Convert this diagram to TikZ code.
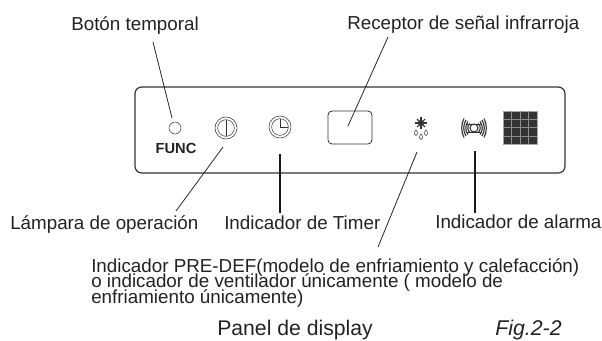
\documentclass[tikz,border=0pt]{standalone}
\usepackage{fontspec}
\setmainfont{Liberation Sans}
\usepackage{xcolor}
\usetikzlibrary{positioning}
\definecolor{panelgray}{HTML}{333333}
\definecolor{textgray}{HTML}{222222}
\lineskiplimit=-10pt
\normallineskiplimit=-10pt
\tikzset{
  lead/.style={draw=black!85, line width=0.6pt},
  leadthick/.style={draw=black!90, line width=1.1pt},
  lbl/.style={inner sep=0pt, anchor=base west, text=textgray, font=\fontsize{14.1pt}{16pt}\selectfont},
  ring/.style={draw=panelgray, circle, inner sep=0pt, line width=0.4pt},
}
\begin{document}
\begin{tikzpicture}[x=0.75pt,y=-0.75pt]
  \useasboundingbox (0,0) rectangle (602,340);
  \draw[draw=panelgray, line width=0.9pt, rounded corners=5pt] (135,87) rectangle (565,173);

  % labels
  \node[lbl] (boton) at (71,30) {Botón temporal};
  \node[lbl] (receptor) at (347,29) {Receptor de señal infrarroja};
  \node[lbl] (lampara) at (10,229) {Lámpara de operación};
  \node[lbl] (timer) at (224,229) {Indicador de Timer};
  \node[lbl] (alarma) at (435,228) {Indicador de alarma};
  \node[lbl, anchor=north west, font=\fontsize{14.1pt}{11.9pt}\selectfont, align=left] (predef) at (91,258)
    {Indicador PRE-DEF(modelo de enfriamiento y calefacción)\\ o indicador de ventilador únicamente ( modelo de\\ enfriamiento únicamente)};
  \node[lbl, font=\fontsize{15.9pt}{18pt}\selectfont] (panel) at (217,335) {Panel de display};
  \node[lbl, font=\fontsize{16pt}{18pt}\itshape] (fig) at (495,335) {Fig.2-2};
  \node[inner sep=0pt, text=textgray, font=\fontsize{11pt}{12pt}\bfseries\selectfont] (func) at (176,148) {FUNC};

  % panel parts
  \node[ring, minimum size=9pt] (led) at (175,128) {};
  \node[ring, minimum size=16.5pt] (oper) at (226,128) {};
  \node[ring, minimum size=12.5pt] at (oper) {};
  \draw[panelgray, line width=0.7pt] (226,120) -- (226,136);
  \node[ring, minimum size=16.5pt] (reloj) at (280,127) {};
  \node[ring, minimum size=12.5pt] at (reloj) {};
  \draw[panelgray, line width=0.5pt] (280,119) -- (280,127) -- (288,127);
  \node[draw=panelgray, rounded corners=3pt, minimum width=33pt, minimum height=24.7pt, inner sep=0pt, line width=0.6pt] (ir) at (350,127.5) {};

  % defrost icon
  \draw[panelgray, line width=1.3pt] (415,123) -- (427,123) (421,117) -- (421,129);
  \draw[panelgray, line width=0.8pt] (417,119) -- (425,127) (425,119) -- (417,127);
  \fill[panelgray] (421,123) circle (3);
  \foreach \x/\y in {416/133,421/137,426/133}
    \draw[panelgray, line width=0.35pt] (\x,{\y-3}) .. controls ({\x+2.6},{\y}) and ({\x+2},{\y+2.5}) .. (\x,{\y+2.5}) .. controls ({\x-2},{\y+2.5}) and ({\x-2.6},{\y}) .. cycle;

  % alarm icon
  \node[ring, minimum size=6pt, line width=0.8pt] (bell) at (474,128) {};
  \foreach \r/\h in {6/4.5,8/6.5,10/8,12/9.5}{
    \draw[panelgray, line width=0.85pt] ({474-\r+2},{128-\h}) .. controls ({474-\r-1},{128-\h/2}) and ({474-\r-1},{128+\h/2}) .. ({474-\r+2},{128+\h});
    \draw[panelgray, line width=0.85pt] ({474+\r-2},{128-\h}) .. controls ({474+\r+1},{128-\h/2}) and ({474+\r+1},{128+\h/2}) .. ({474+\r-2},{128+\h});
  }
  \draw[panelgray, line width=0.7pt] (466,124) -- (482,124) (466,132) -- (482,132);

  % display grid
  \fill[black!80, draw=black!35, line width=0.7pt] (503,111) rectangle (537,144);
  \foreach \x in {511.5,520,528.5}
    \draw[black!45, line width=0.3pt] (\x,111) -- (\x,144);
  \foreach \y in {119,127.5,136}
    \draw[black!45, line width=0.3pt] (503,\y) -- (537,\y);

  % connectors
  \coordinate (ledend) at (172,118);
  \coordinate (boton1) at (153,42);
  \coordinate (operend) at (223,147);
  \coordinate (lamp1) at (176,211);
  \coordinate (timerend) at (280,154);
  \coordinate (timer1) at (280,213);
  \coordinate (irend) at (348,126);
  \coordinate (rec1) at (388,37);
  \coordinate (predefend) at (417,152);
  \coordinate (predef1) at (378,247);
  \coordinate (alarmend) at (475,151);
  \coordinate (alarm1) at (475,213);
  \draw[lead] (boton1) -- (ledend);
  \draw[lead] (lamp1) -- (operend);
  \draw[leadthick] (timer1) -- (timerend);
  \draw[lead] (rec1) -- (irend);
  \draw[lead] (predef1) -- (predefend);
  \draw[leadthick] (alarm1) -- (alarmend);
\end{tikzpicture}
\end{document}
